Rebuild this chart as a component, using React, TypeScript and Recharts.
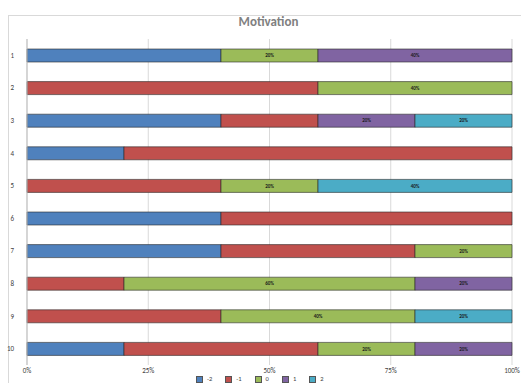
import React from 'react';
import { BarChart, Bar, XAxis, YAxis, CartesianGrid, LabelList } from 'recharts';

const categories = ['1', '2', '3', '4', '5', '6', '7', '8', '9', '10'];
const seriesNames = ['-2', '-1', '0', '1', '2'];
const valuesM2 = [40, 0, 40, 20, 0, 40, 40, 0, 0, 20];
const valuesM1 = [0, 60, 20, 80, 40, 60, 40, 20, 40, 40];
const values0 = [20, 40, 0, 0, 20, 0, 20, 60, 40, 20];
const values1 = [40, 0, 20, 0, 0, 0, 0, 20, 0, 20];
const values2 = [0, 0, 20, 0, 40, 0, 0, 0, 20, 0];
const xTicks = [0, 25, 50, 75, 100];
const colors = ['#4F81BD', '#C0504D', '#9BBB59', '#8064A2', '#4BACC6'];

const seriesValues = [valuesM2, valuesM1, values0, values1, values2];
const data = categories.map((c, i) => {
  const row: Record<string, any> = { name: c };
  seriesNames.forEach((s, k) => {
    row[s] = seriesValues[k][i];
  });
  return row;
});

const fmt = (v: any) => (v ? `${v}%` : '');

export default function App() {
  return (
    <div style={{ position: 'absolute', left: 0, top: 0, width: 521, height: 383, background: '#fff', overflow: 'hidden', fontFamily: 'Calibri, "Liberation Sans", Arial, sans-serif' }}>
      <div style={{ position: 'absolute', left: 8, top: 15, width: 520, height: 380, borderLeft: '1px solid #d9d9d9', borderTop: '1px solid #d9d9d9' }} />
      <div style={{ position: 'absolute', left: 0, width: 537, top: 14, textAlign: 'center', fontSize: 13, fontWeight: 'bold', color: '#808080' }}>Motivation</div>
      <div style={{ position: 'absolute', left: 0, top: 0 }}>
        <BarChart
          width={521}
          height={383}
          data={data}
          layout="vertical"
          margin={{ top: 39, right: 9, left: 0, bottom: 8 }}
          barCategoryGap="60%"
        >
          <CartesianGrid horizontal={false} stroke="#d9d9d9" />
          <XAxis
            type="number"
            domain={[0, 100]}
            ticks={xTicks}
            tickFormatter={(v) => `${v}%`}
            axisLine={false}
            tickLine={false}
            height={10}
            tick={{ fontSize: 7, fill: '#404040', dy: -5 }}
            interval={0}
          />
          <YAxis
            type="category"
            dataKey="name"
            width={27}
            axisLine={{ stroke: '#bfbfbf' }}
            tickLine={false}
            tick={{ fontSize: 7, fill: '#404040', dx: -5 }}
            interval={0}
          />
          {seriesNames.map((s, k) => (
            <Bar key={s} dataKey={s} stackId="a" fill={colors[k]} stroke="#2a2a2a" strokeWidth={0.6} isAnimationActive={false} barSize={13}>
              {k >= 2 && <LabelList dataKey={s} position="center" formatter={fmt} style={{ fontSize: 5, fill: '#1a1a1a', fontWeight: 'bold' }} />}
            </Bar>
          ))}
        </BarChart>
      </div>
      <div style={{ position: 'absolute', top: 376, left: 196, display: 'flex', fontSize: 6.5, color: '#404040', lineHeight: '7px', height: 7 }}>
        {seriesNames.map((s, k) => (
          <div key={s} style={{ display: 'flex', alignItems: 'center', marginRight: 13 }}>
            <div style={{ width: 5, height: 5, background: colors[k], border: '1px solid #555', marginRight: 4 }} />
            <span>{s}</span>
          </div>
        ))}
      </div>
    </div>
  );
}
